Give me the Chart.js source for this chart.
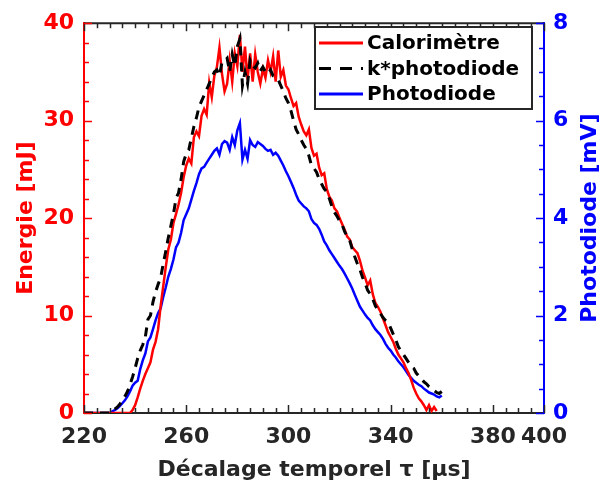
<!DOCTYPE html>
<html>
<head>
<meta charset="utf-8">
<script src="https://cdn.jsdelivr.net/npm/chart.js@4.4.0/dist/chart.umd.min.js"></script>
<style>
  body { margin: 0; background: #fff; }
  #wrap { width: 600px; height: 487px; }
</style>
</head>
<body>
<div id="wrap"><canvas id="myChart"></canvas></div>
<script>
//DONNEES----------------------------------------------------------------START
var tauStart = 220; // premier echantillon [µs], un point par µs

// Calorimetre [mJ], de 220 a 358 µs
var calorimetre = [
  0, 0, 0, 0, 0, 0, 0, 0, 0, 0,
  0, 0, 0, 0, 0, 0, 0, 0, 0, 0.3,
  0.8, 1.6, 2.5, 3.3, 4.0, 4.6, 5.2, 6.5, 7.3, 8.6,
  11.0, 13.0, 15.0, 16.8, 17.8, 19.5, 20.4, 21.4, 22.6, 24.2,
  25.4, 26.1, 25.6, 28.3, 28.9, 28.4, 30.5, 31.2, 30.6, 33.9,
  32.4, 34.6, 35.5, 37.5, 34.8, 33.0, 33.8, 36.2, 34.0, 36.9,
  35.6, 38.8, 35.0, 37.6, 34.2, 36.9, 34.0, 36.8, 35.0, 33.8,
  35.3, 34.4, 36.2, 35.0, 36.6, 34.0, 37.2, 34.5, 35.2, 33.6,
  33.2, 32.3, 31.5, 31.8, 30.4, 29.6, 28.9, 28.5, 29.1, 27.2,
  26.4, 26.6, 25.2, 24.4, 24.6, 23.0, 22.2, 21.8, 21.0, 20.7,
  20.0, 19.4, 18.8, 18.1, 17.8, 17.0, 16.7, 16.4, 15.6, 14.6,
  13.9, 13.1, 13.6, 12.2, 11.3, 10.9, 10.4, 9.7, 9.0, 8.3,
  7.8, 7.3, 6.6, 6.0, 5.6, 5.2, 4.6, 4.1, 3.4, 2.6,
  2.0, 1.5, 1.2, 0.8, 0.3, 0.8, 0.2, 0.6, 0.2
];

// k*photodiode [mJ], de 220 a 360 µs
var kPhotodiode = [
  0, 0, 0, 0, 0, 0, 0, 0, 0, 0,
  0, 0.2, 0.4, 0.6, 0.9, 1.3, 1.7, 2.2, 2.9, 3.7,
  4.6, 5.6, 6.4, 7.0, 7.8, 9.6, 10.0, 11.4, 12.4, 13.2,
  13.9, 15.3, 16.6, 18.0, 19.2, 20.4, 22.0, 22.6, 24.0, 25.8,
  26.6, 27.0, 28.2, 29.4, 30.3, 31.4, 32.0, 32.6, 33.2, 33.8,
  34.4, 35.0, 35.2, 34.6, 36.0, 36.1, 36.4, 35.0, 36.8, 35.6,
  37.6, 38.4, 33.6, 35.0, 33.8, 36.2, 35.6, 35.4, 35.9, 35.1,
  35.5, 35.0, 34.8, 35.2, 34.6, 34.5, 34.2, 33.6, 33.0, 32.3,
  31.8, 31.0, 30.0, 29.1, 28.6, 28.0, 27.5, 27.1, 26.4, 25.4,
  25.1, 24.7, 24.0, 23.5, 23.0, 22.7, 22.0, 21.2, 20.6, 20.2,
  19.7, 19.3, 18.6, 18.1, 17.7, 16.8, 16.0, 15.3, 14.7, 13.9,
  13.3, 12.6, 12.2, 11.7, 11.0, 10.6, 10.2, 9.8, 9.5, 9.3,
  8.7, 8.1, 7.5, 6.8, 6.4, 6.0, 5.6, 5.2, 4.8, 4.6,
  4.1, 3.8, 3.5, 3.2, 3.0, 2.7, 2.5, 2.3, 2.1, 2.0,
  2.2
];

// Photodiode [mV], de 220 a 360 µs
var photodiode = [
  0, 0, 0, 0, 0, 0, 0, 0, 0, 0,
  0, 0.03, 0.06, 0.09, 0.14, 0.20, 0.26, 0.34, 0.44, 0.56,
  0.62, 0.66, 0.90, 1.08, 1.22, 1.47, 1.55, 1.72, 1.90, 2.05,
  2.15, 2.38, 2.58, 2.80, 2.96, 3.15, 3.40, 3.50, 3.70, 3.96,
  4.08, 4.20, 4.38, 4.56, 4.72, 4.90, 5.02, 5.05, 5.14, 5.22,
  5.30, 5.38, 5.43, 5.30, 5.52, 5.58, 5.55, 5.40, 5.66, 5.50,
  5.80, 5.95, 5.20, 5.40, 5.22, 5.60, 5.50, 5.46, 5.56, 5.52,
  5.48, 5.42, 5.38, 5.40, 5.30, 5.34, 5.28, 5.18, 5.08, 4.96,
  4.86, 4.74, 4.62, 4.48, 4.36, 4.30, 4.24, 4.20, 4.14, 3.98,
  3.90, 3.86, 3.78, 3.66, 3.52, 3.44, 3.34, 3.26, 3.18, 3.10,
  3.02, 2.95, 2.86, 2.76, 2.66, 2.55, 2.42, 2.30, 2.18, 2.10,
  2.02, 1.95, 1.90, 1.80, 1.72, 1.66, 1.60, 1.52, 1.42, 1.34,
  1.28, 1.20, 1.14, 1.06, 1.00, 0.94, 0.86, 0.78, 0.72, 0.66,
  0.62, 0.58, 0.55, 0.50, 0.46, 0.42, 0.40, 0.38, 0.34, 0.32,
  0.36
];

var xTicks = [220, 260, 300, 340, 380, 400];
var legendLabels = ['Calorimètre', 'k*photodiode', 'Photodiode'];
var rightTitle = 'Photodiode [mV]';
//DONNEES----------------------------------------------------------------END

var RED = '#ff0000';
var BLUE = '#0000ff';
var DARK = '#262626';
var FONT = 'DejaVu Sans';

function toPoints(values) {
  return values.map(function (v, i) {
    return { x: tauStart + i, y: v };
  });
}

//TICKS VERS L'INTERIEUR + CADRE + LEGENDE----------------------------------------------------------------START
var boxPlugin = {
  id: 'boxPlugin',
  afterDraw: function (chart) {
    var c = chart.ctx;
    var a = chart.chartArea;
    var sx = chart.scales.x, sy = chart.scales.y, sy1 = chart.scales.y1;

    function seg(x1, y1, x2, y2) {
      c.beginPath();
      c.moveTo(x1, y1);
      c.lineTo(x2, y2);
      c.stroke();
    }

    c.save();
    // top border
    c.strokeStyle = DARK;
    c.lineWidth = 2;
    seg(a.left, a.top, a.right, a.top);

    // x ticks (bottom + top)
    c.lineWidth = 1.5;
    for (var t = sx.min; t <= sx.max; t += 5) {
      var px = Math.round(sx.getPixelForValue(t)) + 0.5;
      var len = xTicks.indexOf(t) >= 0 ? 8 : 5;
      seg(px, a.bottom, px, a.bottom - len);
      seg(px, a.top, px, a.top + len);
    }

    // left ticks (red)
    c.strokeStyle = RED;
    for (var v = 0; v <= 40; v += 2) {
      var py = Math.round(sy.getPixelForValue(v)) + 0.5;
      seg(a.left, py, a.left + (v % 10 === 0 ? 8 : 5), py);
    }

    // right ticks (blue)
    c.strokeStyle = BLUE;
    for (var w = 0; w <= 8; w += 0.5) {
      var py2 = Math.round(sy1.getPixelForValue(w)) + 0.5;
      seg(a.right, py2, a.right - (w % 2 === 0 ? 8 : 5), py2);
    }

    // titre axe droit, lu de bas en haut
    c.save();
    c.translate(590, (a.top + a.bottom) / 2);
    c.rotate(-Math.PI / 2);
    c.font = 'bold 22px "' + FONT + '"';
    c.fillStyle = BLUE;
    c.textAlign = 'center';
    c.textBaseline = 'middle';
    c.fillText(rightTitle, 0, 0);
    c.restore();

    // legende
    var lx = 315, ly = 27, lw = 217, lh = 82;
    c.fillStyle = '#ffffff';
    c.fillRect(lx, ly, lw, lh);
    c.strokeStyle = DARK;
    c.lineWidth = 2;
    c.strokeRect(lx, ly, lw, lh);

    var styles = [
      { color: RED, dash: [] },
      { color: '#000000', dash: [12, 9] },
      { color: BLUE, dash: [] }
    ];
    c.font = 'bold 20px "' + FONT + '"';
    c.textBaseline = 'middle';
    c.textAlign = 'left';
    for (var i = 0; i < legendLabels.length; i++) {
      var yy = ly + 16 + i * 25.5;
      c.strokeStyle = styles[i].color;
      c.lineWidth = 3;
      c.setLineDash(styles[i].dash);
      seg(319, yy, 363, yy);
      c.setLineDash([]);
      c.fillStyle = '#000000';
      c.fillText(legendLabels[i], 367, yy + 1);
    }
    c.restore();
  }
};
//TICKS VERS L'INTERIEUR + CADRE + LEGENDE----------------------------------------------------------------END

//DIAGRAMME----------------------------------------------------------------START
var ctx = document.getElementById('myChart').getContext('2d');
var myChart = new Chart(ctx, {
  type: 'line',
  data: {
    datasets: [{
      label: legendLabels[0],
      data: toPoints(calorimetre),
      borderColor: RED,
      borderWidth: 2.5,
      yAxisID: 'y',
      order: 2
    }, {
      label: legendLabels[1],
      data: toPoints(kPhotodiode),
      borderColor: '#000000',
      borderWidth: 3,
      borderDash: [9, 7],
      yAxisID: 'y',
      order: 1
    }, {
      label: legendLabels[2],
      data: toPoints(photodiode),
      borderColor: BLUE,
      borderWidth: 2.5,
      yAxisID: 'y1',
      order: 3
    }]
  },
  options: {
    responsive: true,
    maintainAspectRatio: false,
    animation: false,
    layout: { padding: { top: 16, left: 0, right: 0, bottom: 0 } },
    elements: {
      point: { radius: 0 },
      line: { tension: 0 }
    },
    plugins: {
      legend: { display: false },
      tooltip: { enabled: false }
    },
    scales: {
      x: {
        type: 'linear',
        min: 220,
        max: 400,
        afterBuildTicks: function (scale) {
          scale.ticks = xTicks.map(function (v) { return { value: v }; });
        },
        afterFit: function (scale) { scale.height = 74; },
        grid: { display: false, drawTicks: false },
        border: { display: true, color: DARK, width: 2 },
        ticks: {
          color: DARK,
          padding: 11,
          maxRotation: 0,
          autoSkip: false,
          font: { family: FONT, size: 22, weight: 'bold' }
        },
        title: {
          display: true,
          text: 'Décalage temporel τ [μs]',
          color: DARK,
          padding: { top: 0, bottom: 6 },
          font: { family: FONT, size: 22, weight: 'bold', lineHeight: 1 }
        }
      },
      y: {
        position: 'left',
        min: 0,
        max: 40,
        afterFit: function (scale) { scale.width = 84; },
        grid: { display: false, drawTicks: false },
        border: { display: true, color: RED, width: 2 },
        ticks: {
          stepSize: 10,
          color: RED,
          padding: 10,
          font: { family: FONT, size: 22, weight: 'bold' }
        },
        title: {
          display: true,
          text: 'Energie [mJ]',
          color: RED,
          padding: { top: 15, bottom: 0 },
          font: { family: FONT, size: 22, weight: 'bold', lineHeight: 1 }
        }
      },
      y1: {
        position: 'right',
        min: 0,
        max: 8,
        afterFit: function (scale) { scale.width = 56; },
        grid: { display: false, drawTicks: false },
        border: { display: true, color: BLUE, width: 2 },
        ticks: {
          stepSize: 2,
          color: BLUE,
          padding: 9,
          font: { family: FONT, size: 22, weight: 'bold' }
        },
        title: { display: false }
      }
    }
  },
  plugins: [boxPlugin]
});
//DIAGRAMME----------------------------------------------------------------END
</script>
</body>
</html>
